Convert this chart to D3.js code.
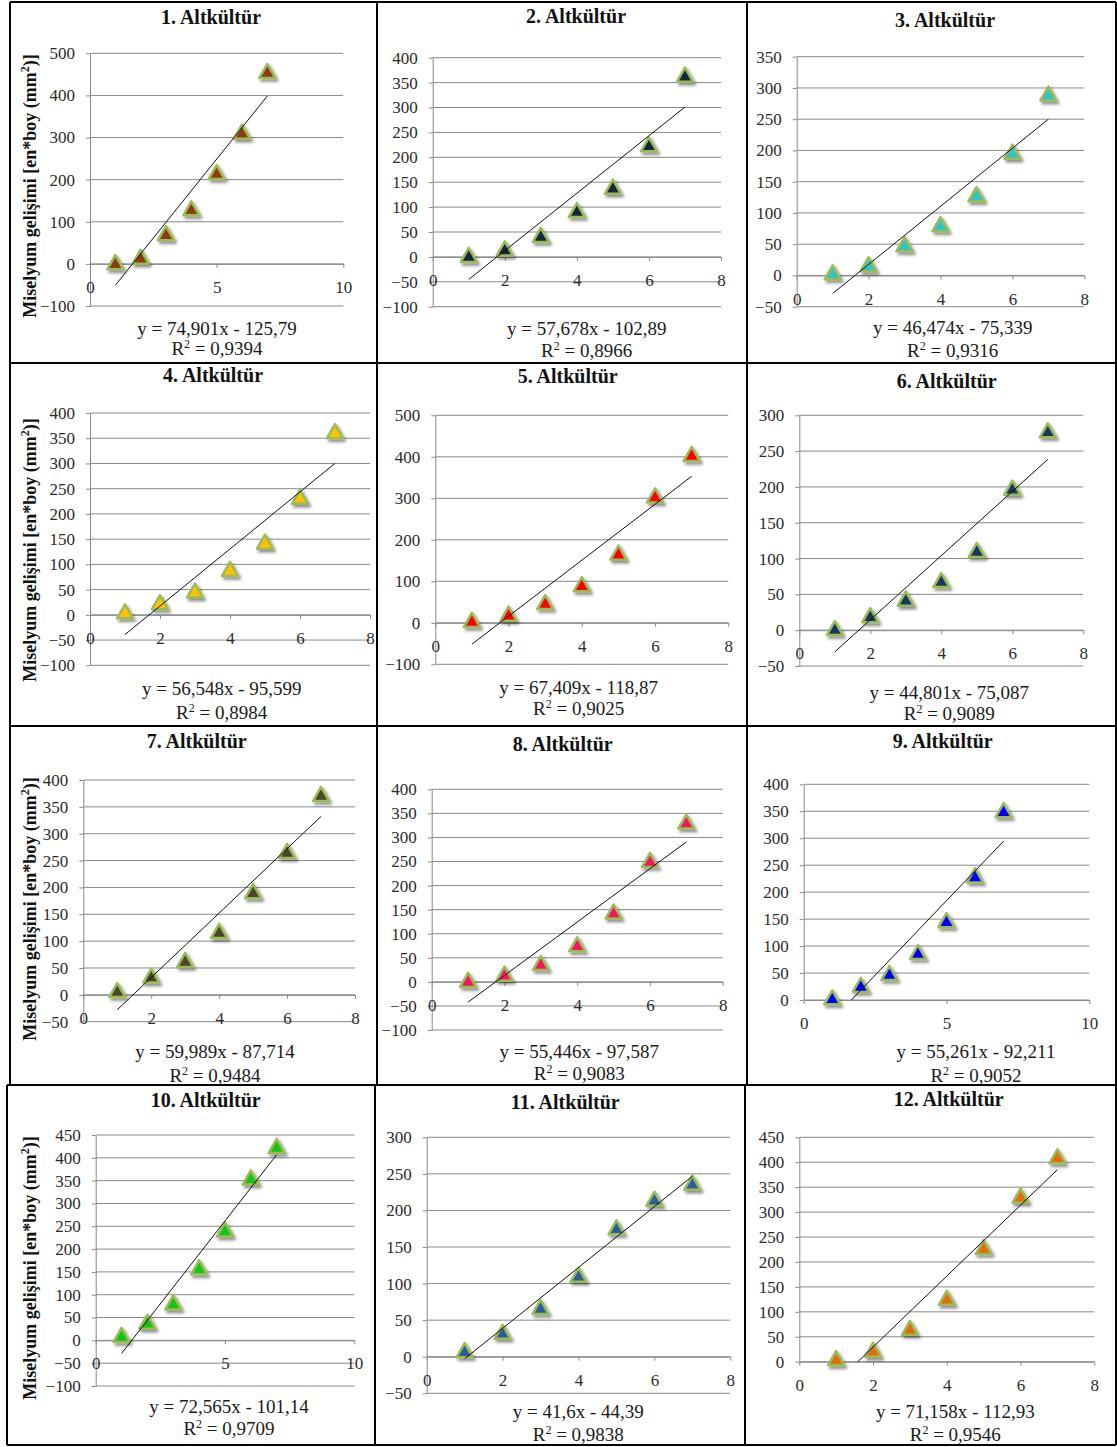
<!DOCTYPE html>
<html>
<head>
<meta charset="utf-8">
<script src="https://cdn.jsdelivr.net/npm/d3@7"></script>
<style>
  body { margin: 0; background: #fff; }
  text { font-family: "Liberation Serif", "DejaVu Serif", serif; }
</style>
</head>
<body>
<script>
// values
var panelNames = ["1. Altkültür", "2. Altkültür", "3. Altkültür", "4. Altkültür",
	"5. Altkültür", "6. Altkültür", "7. Altkültür", "8. Altkültür",
	"9. Altkültür", "10. Altkültür", "11. Altkültür", "12. Altkültür"];
var days = [1, 2, 3, 4, 5, 6, 7];
var growth = [
	[4, 17, 73, 132, 218, 314, 458],
	[4, 17, 44, 94, 141, 226, 366],
	[5, 18, 50, 82, 130, 198, 291],
	[7, 25, 48, 91, 145, 234, 364],
	[7, 22, 50, 93, 169, 307, 407],
	[3, 21, 44, 70, 112, 199, 279],
	[9, 36, 65, 119, 193, 268, 374],
	[4, 17, 39, 78, 146, 253, 333],
	[5, 28, 50, 89, 148, 231, 352],
	[12, 41, 83, 160, 243, 357, 426],
	[9, 34, 68, 112, 177, 216, 238],
	[7, 24, 68, 128, 230, 333, 412]
];
var slopes = [74.901, 57.678, 46.474, 56.548, 67.409, 44.801, 59.989, 55.446, 55.261, 72.565, 41.6, 71.158];
var intercepts = [-125.79, -102.89, -75.339, -95.599, -118.87, -75.087, -87.714, -97.587, -92.211, -101.14, -44.39, -112.93];
var eqLabels = ["y = 74,901x - 125,79", "y = 57,678x - 102,89", "y = 46,474x - 75,339",
	"y = 56,548x - 95,599", "y = 67,409x - 118,87", "y = 44,801x - 75,087",
	"y = 59,989x - 87,714", "y = 55,446x - 97,587", "y = 55,261x - 92,211",
	"y = 72,565x - 101,14", "y = 41,6x - 44,39", "y = 71,158x - 112,93"];
var r2Labels = ["0,9394", "0,8966", "0,9316", "0,8984", "0,9025", "0,9089",
	"0,9484", "0,9083", "0,9052", "0,9709", "0,9838", "0,9546"];
var yDomains = [[-100, 500], [-100, 400], [-50, 350], [-100, 400], [-100, 500], [-50, 300],
	[-50, 400], [-100, 400], [0, 400], [-100, 450], [-50, 300], [0, 450]];
var yStep = [100, 50, 50, 50, 100, 50, 50, 50, 50, 50, 50, 50];
var xMax = [10, 8, 8, 8, 8, 8, 8, 8, 10, 10, 8, 8];
var yTitle = "Miselyum gelişimi [en*boy (mm";

// layout: plot box [left, right, top, bottom], title, equation
var frames = [
	{ l: 90, r: 343.3, t: 53.3, b: 306, tx: 211, ty: 24, ex: 217, ey: 335, ry: 355 },
	{ l: 432.7, r: 721, t: 57.7, b: 306.7, tx: 576, ty: 23, ex: 586.7, ey: 335, ry: 357 },
	{ l: 796.7, r: 1084.3, t: 56.7, b: 306.7, tx: 945, ty: 27, ex: 952.7, ey: 334.3, ry: 356.7 },
	{ l: 90, r: 370, t: 413, b: 665.3, tx: 213, ty: 382, ex: 221.7, ey: 695.3, ry: 718.7 },
	{ l: 435.3, r: 728.3, t: 415.3, b: 664.3, tx: 567.7, ty: 383, ex: 578.7, ey: 693.7, ry: 715.3 },
	{ l: 799.3, r: 1083.3, t: 415.3, b: 666, tx: 946.7, ty: 388, ex: 949.3, ey: 698.7, ry: 720.3 },
	{ l: 83.3, r: 355, t: 780, b: 1021.7, tx: 196.7, ty: 748.3, ex: 215, ey: 1058.3, ry: 1081.7 },
	{ l: 431.7, r: 722.7, t: 789.3, b: 1030, tx: 562.7, ty: 751, ex: 579.3, ey: 1058.3, ry: 1080 },
	{ l: 803.7, r: 1089.3, t: 784.3, b: 1000, tx: 942.7, ty: 747.7, ex: 976, ey: 1058.3, ry: 1081.7 },
	{ l: 95.7, r: 354.3, t: 1135, b: 1386, tx: 205.7, ty: 1106.7, ex: 229, ey: 1413.3, ry: 1435 },
	{ l: 426.7, r: 730.3, t: 1137.3, b: 1393.3, tx: 565.3, ty: 1109.3, ex: 578.3, ey: 1418.3, ry: 1440.7 },
	{ l: 799.3, r: 1094.3, t: 1137.3, b: 1361.7, tx: 948.7, ty: 1106, ex: 955.3, ey: 1418.3, ry: 1440.7 }
];
var markerFill = ["#8e3a0c", "#16283d", "#30c3c6", "#ffc000", "#ff0000", "#17375e",
	"#4a4426", "#f5145f", "#0000ff", "#12c412", "#2a5d9a", "#e46c0a"];
var yTitleCenters = [186, 550, 909, 1268];

var svg = d3.select('body').append('svg')
	.attr('width', 1117)
	.attr('height', 1447);

svg.append('rect').attr('width', 1117).attr('height', 1447).attr('fill', '#fff');

var shadow = svg.append('defs').append('filter')
	.attr('id', 'shadow')
	.attr('x', '-50%').attr('y', '-50%')
	.attr('width', '200%').attr('height', '200%');
shadow.append('feDropShadow')
	.attr('dx', 2).attr('dy', 2.5)
	.attr('stdDeviation', 1.6)
	.attr('flood-color', '#000')
	.attr('flood-opacity', 0.45);

var gridColor = '#898989';
var triangle = 'M0,-7L8,7L-8,7Z';

panelNames.forEach(function(name, i) {
	var f = frames[i];
	var x = d3.scaleLinear().domain([0, xMax[i]]).range([f.l, f.r]);
	var y = d3.scaleLinear().domain(yDomains[i]).range([f.b, f.t]);
	var yTicks = d3.range(yDomains[i][0], yDomains[i][1] + 1, yStep[i]);
	var xTicks = d3.range(0, xMax[i] + 1, xMax[i] == 10 ? 5 : 2);
	var g = svg.append('g');

	g.append('g').selectAll('line')
		.data(yTicks)
		.join('line')
		.attr('x1', f.l).attr('x2', f.r)
		.attr('y1', function(d) { return y(d); })
		.attr('y2', function(d) { return y(d); })
		.attr('stroke', gridColor)
		.attr('stroke-width', 1);

	var yAxis = g.append('g')
		.attr('transform', 'translate(' + f.l + ',0)')
		.call(d3.axisLeft(y).tickValues(yTicks).tickSize(4).tickPadding(11).tickSizeOuter(0));
	var xAxis = g.append('g')
		.attr('transform', 'translate(0,' + y(0) + ')')
		.call(d3.axisBottom(x).tickValues(xTicks).tickSize(4).tickPadding(13).tickSizeOuter(0));
	[yAxis, xAxis].forEach(function(a) {
		a.attr('font-family', null).attr('font-size', null);
		a.selectAll('path, line').attr('stroke', gridColor);
		a.selectAll('text')
			.attr('fill', '#2b2b2b')
			.style('font-size', '17px')
			.style('font-family', '"Liberation Serif", serif');
	});

	// markers
	g.append('g').selectAll('path')
		.data(days)
		.join('path')
		.attr('d', triangle)
		.attr('transform', function(d, k) { return 'translate(' + x(d) + ',' + y(growth[i][k]) + ')'; })
		.attr('fill', markerFill[i])
		.attr('stroke', '#9bbb59')
		.attr('stroke-width', 2.5)
		.attr('stroke-linejoin', 'round')
		.attr('filter', 'url(#shadow)');

	// linear trendline, clipped at axis minimum
	var x1 = Math.max(days[0], (yDomains[i][0] - intercepts[i]) / slopes[i]);
	var x2 = days[days.length - 1];
	g.append('line')
		.attr('x1', x(x1)).attr('y1', y(slopes[i] * x1 + intercepts[i]))
		.attr('x2', x(x2)).attr('y2', y(slopes[i] * x2 + intercepts[i]))
		.attr('stroke', '#111')
		.attr('stroke-width', 1);

	g.append('text')
		.attr('x', f.tx).attr('y', f.ty)
		.attr('text-anchor', 'middle')
		.attr('font-weight', 'bold')
		.attr('font-size', '20px')
		.attr('fill', '#111')
		.text(name);

	g.append('text')
		.attr('x', f.ex).attr('y', f.ey)
		.attr('text-anchor', 'middle')
		.attr('font-size', '19px')
		.attr('fill', '#1a1a1a')
		.text(eqLabels[i]);

	var r2 = g.append('text')
		.attr('x', f.ex).attr('y', f.ry)
		.attr('text-anchor', 'middle')
		.attr('font-size', '19px')
		.attr('fill', '#1a1a1a');
	r2.append('tspan').text('R');
	r2.append('tspan').attr('dy', -7).attr('font-size', '12px').text('2');
	r2.append('tspan').attr('dy', 7).text(' = ' + r2Labels[i]);
});

// y axis titles on the left column
yTitleCenters.forEach(function(cy) {
	var t = svg.append('text')
		.attr('transform', 'translate(36,' + cy + ') rotate(-90)')
		.attr('text-anchor', 'middle')
		.attr('font-weight', 'bold')
		.attr('font-size', '18px')
		.attr('fill', '#111');
	t.append('tspan').text(yTitle);
	t.append('tspan').attr('dy', -7).attr('font-size', '12px').text('2');
	t.append('tspan').attr('dy', 7).text(')]');
});

// cell borders
var rowLines = [2, 363, 726, 1085, 1445];
var colLines = [[10, 377, 747, 1116], [10, 377, 747, 1116], [10, 377, 747, 1116], [7, 375, 745, 1116]];
var borders = svg.append('g').attr('stroke', '#000').attr('stroke-width', 2);
colLines.forEach(function(cols, r) {
	cols.forEach(function(cx) {
		borders.append('line')
			.attr('x1', cx).attr('x2', cx)
			.attr('y1', rowLines[r]).attr('y2', rowLines[r + 1]);
	});
	borders.append('line')
		.attr('x1', cols[0]).attr('x2', cols[3])
		.attr('y1', rowLines[r]).attr('y2', rowLines[r]);
});
borders.append('line')
	.attr('x1', 7).attr('x2', 1116)
	.attr('y1', 1445).attr('y2', 1445);
</script>
</body>
</html>
